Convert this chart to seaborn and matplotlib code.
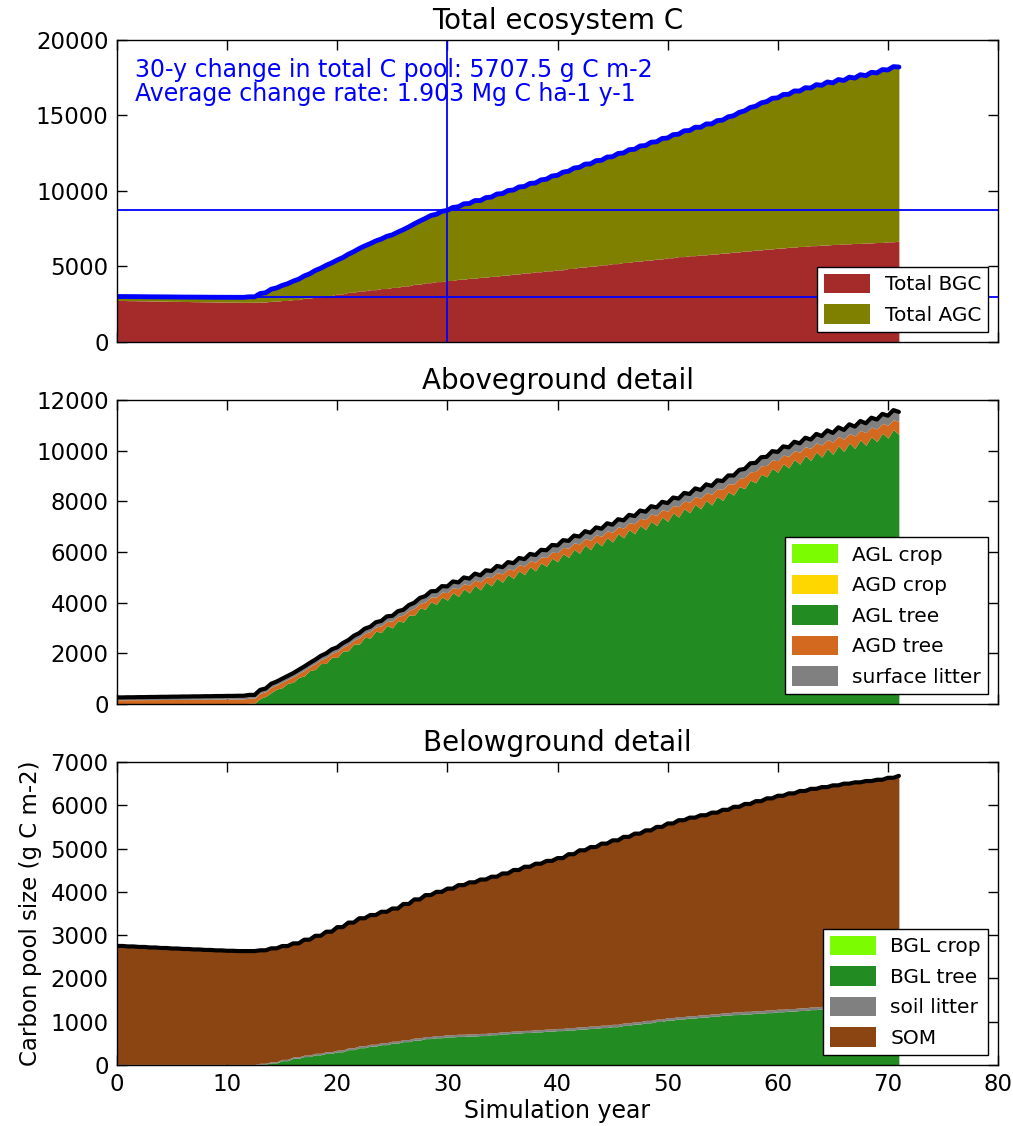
import matplotlib
matplotlib.use("Agg")
import matplotlib.pyplot as plt
import numpy as np
import seaborn as sns
from decimal import Decimal, ROUND_HALF_UP

# ---------------------------------------------------------------- data
# Annual pool sizes (g C m-2), one value per simulation year 0..71
years = list(range(72))

# aboveground pools
agl_crop = [0] * 72
agd_crop = [0] * 72
agl_tree = ([0] * 12 + [30,
            222, 454, 645, 855, 1105, 1365, 1605, 1835,
            2102, 2368, 2604, 2820, 3006, 3232, 3498, 3744, 3930, 4098,
            4244, 4384, 4504, 4664, 4804, 4954, 5104, 5254, 5434, 5614,
            5786, 5948, 6090, 6242, 6394, 6556, 6718, 6880, 7042, 7204,
            7376, 7548, 7700, 7852, 8034, 8246, 8498, 8730, 8962, 9144,
            9316, 9468, 9610, 9742, 9854, 9966, 10088, 10210, 10352, 10494, 10636])
agd_tree = [165, 168, 171, 174, 177, 180, 183, 186, 189, 192, 195, 198,
            200, 205, 210, 215, 220, 225, 230, 235, 240,
            246, 252, 258, 264, 270, 276, 282, 288, 294, 300,
            306, 312, 318, 324, 330, 336, 342, 348, 354, 360,
            365, 370, 375, 380, 385, 390, 395, 400, 405, 410,
            415, 420, 425, 430, 435, 440, 445, 450, 455, 460,
            465, 470, 475, 480, 485, 490, 495, 500, 505, 510, 515]
surface_litter = [95, 98, 101, 104, 107, 110, 113, 116, 119, 122, 125, 128,
                  130, 133, 136, 140, 145, 150, 155, 160, 165,
                  172, 180, 188, 196, 204, 212, 220, 228, 236, 244.5,
                  250, 254, 258, 262, 266, 270, 274, 278, 282, 286,
                  289, 292, 295, 298, 301, 304, 307, 310, 313, 316,
                  319, 322, 325, 328, 331, 334, 337, 340, 343, 346,
                  349, 352, 355, 358, 361, 364, 367, 370, 373, 376, 379]
# mid-season leaf flush on the trees (g C m-2)
leaf_swing = ([0] * 13 + [80, 135, 175, 200, 215, 230, 245, 255,
              265, 268, 272, 276, 280, 284, 288, 292, 296, 300,
              302, 304, 306, 308, 310, 312, 314, 316, 318, 320,
              322, 324, 326, 328, 330, 332, 334, 336, 338, 340] + [340] * 21)

# belowground pools
bgl_crop = [0] * 72
bgl_tree = ([0] * 13 + [20, 50, 100, 155, 195, 235, 270, 305, 355, 400,
            435, 470, 505, 540, 575, 610, 630, 650, 660, 670,
            680, 700, 720, 735, 750, 765, 780, 795, 810, 830,
            845, 865, 885, 915, 945, 975, 1005, 1040, 1065, 1085,
            1105, 1125, 1150, 1165, 1180, 1195, 1210, 1230, 1245, 1260,
            1280, 1295, 1310, 1325, 1340, 1355, 1370, 1385, 1400])
soil_litter = ([15] * 13 + [20, 25, 30, 32, 34, 36, 38, 40,
               42, 43, 44, 45, 46, 47, 48, 49, 50, 50]
               + [50] * 10 + [55] * 15 + [60] * 16)
som = [2735, 2724, 2712, 2700, 2688, 2676, 2665, 2654, 2643, 2633, 2624, 2617, 2617,
       2610, 2620, 2618, 2623, 2666, 2714, 2772, 2840,
       2893, 2947, 2986, 3025, 3064, 3133, 3202, 3266, 3320, 3375,
       3445, 3500, 3555, 3600, 3655, 3720, 3780, 3835, 3885, 3935,
       4005, 4075, 4135, 4195, 4250, 4300, 4345, 4390, 4440, 4485,
       4535, 4575, 4610, 4650, 4690, 4740, 4790, 4840, 4890, 4930,
       4970, 5010, 5040, 5065, 5090, 5115, 5130, 5145, 5160, 5190, 5220]

# within-year sampling: start of year and mid-season
season_offset = [0.0, 0.5]
leaf_phase = [0.0, 1.0]      # share of the leaf flush on the living pool
dead_phase = [0.0, -0.35]    # share moved out of standing dead material

change_years = 30

ag_labels = ["AGL crop", "AGD crop", "AGL tree", "AGD tree", "surface litter"]
ag_colors = ["#7CFC00", "#FFD700", "#228B22", "#D2691E", "#808080"]
bg_labels = ["BGL crop", "BGL tree", "soil litter", "SOM"]
bg_colors = ["#7CFC00", "#228B22", "#808080", "#8B4513"]
tot_labels = ["Total BGC", "Total AGC"]
tot_colors = ["#A52A2A", "#808000"]

for s in (agl_crop, agd_crop, agl_tree, agd_tree, surface_litter, leaf_swing,
          bgl_crop, bgl_tree, soil_litter, som):
    assert len(s) == len(years)


# ------------------------------------------------------- time series
def expand(values, phase=None):
    """Sample an annual pool at the within-year points."""
    out = []
    for i, y in enumerate(years):
        for k, off in enumerate(season_offset):
            if y == years[-1] and off > 0:
                continue
            v = values[i]
            if phase is not None:
                v = v + phase[k] * leaf_swing[i]
            out.append(v)
    return np.array(out, dtype=float)


t = []
for y in years:
    for off in season_offset:
        if y == years[-1] and off > 0:
            continue
        t.append(y + off)
t = np.array(t)

ag = [expand(agl_crop), expand(agd_crop), expand(agl_tree, leaf_phase),
      expand(agd_tree, dead_phase), expand(surface_litter)]
bg = [expand(bgl_crop), expand(bgl_tree), expand(soil_litter), expand(som)]
agc = np.sum(ag, axis=0)
bgc = np.sum(bg, axis=0)
total = agc + bgc

i0 = int(np.where(t == years[0])[0][0])
i30 = int(np.where(t == years[0] + change_years)[0][0])
c_start, c_end = float(total[i0]), float(total[i30])
change = c_end - c_start
rate = Decimal(str(change)) / Decimal(change_years) / Decimal(100)
rate = rate.quantize(Decimal("0.001"), ROUND_HALF_UP)

# ------------------------------------------------------------- figure
sns.set_style("ticks")
plt.rcParams.update({
    "font.family": ["DejaVu Sans"],
    "text.color": "black", "axes.labelcolor": "black",
    "xtick.direction": "in", "ytick.direction": "in",
    "xtick.top": True, "ytick.right": True,
    "xtick.major.size": 7, "ytick.major.size": 7,
    "xtick.major.width": 1.0, "ytick.major.width": 1.0,
    "xtick.major.pad": 6, "ytick.major.pad": 6,
    "axes.edgecolor": "black", "axes.linewidth": 1.0,
    "xtick.color": "black", "ytick.color": "black",
    "xtick.labelsize": 16.5, "ytick.labelsize": 16.5,
})

fig = plt.figure(figsize=(10.13, 11.26), dpi=100)
W, H = 1013, 1126
left, right = 117 / W, 998 / W


def panel(top_px, bot_px):
    return fig.add_axes([left, 1 - bot_px / H, right - left, (bot_px - top_px) / H])


ax0 = panel(40, 342)
ax1 = panel(400, 704)
ax2 = panel(762, 1065)

legend_kw = dict(loc="lower right", fontsize=14.5, frameon=True, fancybox=False,
                 edgecolor="black", framealpha=1, handlelength=2.3,
                 handleheight=1.1, borderpad=0.35, labelspacing=0.5,
                 handletextpad=0.7, borderaxespad=0.5)
title_size = 20

# total ecosystem C
ax0.stackplot(t, bgc, agc, colors=tot_colors, labels=tot_labels, linewidth=0)
sns.lineplot(x=t, y=total, color="blue", linewidth=3.5, ax=ax0)
ax0.axhline(c_start, color="blue", linewidth=1.3)
ax0.axhline(c_end, color="blue", linewidth=1.3)
ax0.axvline(years[0] + change_years, color="blue", linewidth=1.3)
ax0.text(0.02, 0.94,
         f"{change_years}-y change in total C pool: {change:.1f} g C m-2\n"
         f"Average change rate: {rate} Mg C ha-1 y-1",
         transform=ax0.transAxes, va="top", ha="left", color="blue",
         fontsize=17, linespacing=1.0)
ax0.set_ylim(0, 20000)
ax0.set_yticks(range(0, 20001, 5000))
ax0.set_title("Total ecosystem C", fontsize=title_size, pad=8)
ax0.legend(**legend_kw)

# aboveground detail
ax1.stackplot(t, *ag, colors=ag_colors, labels=ag_labels, linewidth=0)
sns.lineplot(x=t, y=agc, color="black", linewidth=3, ax=ax1)
ax1.set_ylim(0, 12000)
ax1.set_yticks(range(0, 12001, 2000))
ax1.set_title("Aboveground detail", fontsize=title_size, pad=8)
ax1.legend(**legend_kw)

# belowground detail
ax2.stackplot(t, *bg, colors=bg_colors, labels=bg_labels, linewidth=0)
sns.lineplot(x=t, y=bgc, color="black", linewidth=3, ax=ax2)
ax2.set_ylim(0, 7000)
ax2.set_yticks(range(0, 7001, 1000))
ax2.set_title("Belowground detail", fontsize=title_size, pad=8)
ax2.legend(**legend_kw)
ax2.set_xlabel("Simulation year", fontsize=17, labelpad=2)
ax2.set_ylabel("Carbon pool size (g C m-2)", fontsize=16.5, labelpad=6)

for ax in (ax0, ax1, ax2):
    ax.set_xlim(0, 80)
    ax.set_xticks(range(0, 81, 10))
    for side in ("top", "right", "left", "bottom"):
        ax.spines[side].set_visible(True)
for ax in (ax0, ax1):
    ax.tick_params(labelbottom=False)
    ax.set_xlabel("")
ax0.set_ylabel("")
ax1.set_ylabel("")

fig.savefig("out.png", dpi=100)
